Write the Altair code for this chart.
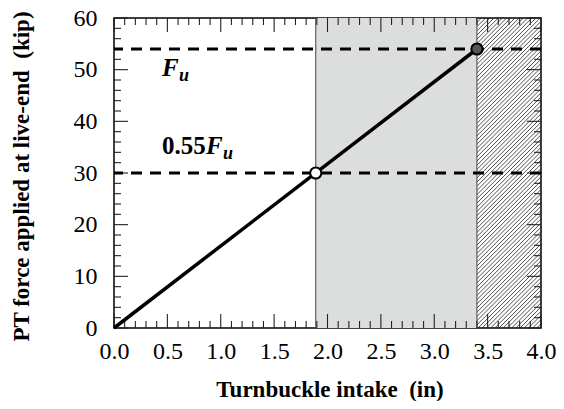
import altair as alt
import numpy as np
import pandas as pd

# ---------------- data ----------------
line_x = [0.0, 3.4]
line_y = [0.0, 54.0]
open_pt_x = [1.89]
open_pt_y = [30.0]
fill_pt_x = [3.4]
fill_pt_y = [54.0]
ref_levels = [54.0, 30.0]            # Fu and 0.55Fu
gray_zone = [1.89, 3.4]
hatch_zone = [3.4, 4.0]
x_labels = [0.0, 0.5, 1.0, 1.5, 2.0, 2.5, 3.0, 3.5, 4.0]
y_labels = [0.0, 10.0, 20.0, 30.0, 40.0, 50.0, 60.0]
x_minor = [0.1, 0.2, 0.3, 0.4, 0.6, 0.7, 0.8, 0.9, 1.1, 1.2, 1.3, 1.4, 1.6, 1.7, 1.8, 1.9,
           2.1, 2.2, 2.3, 2.4, 2.6, 2.7, 2.8, 2.9, 3.1, 3.2, 3.3, 3.4, 3.6, 3.7, 3.8, 3.9]
y_minor = [2.0, 4.0, 6.0, 8.0, 12.0, 14.0, 16.0, 18.0, 22.0, 24.0, 26.0, 28.0, 32.0, 34.0,
           36.0, 38.0, 42.0, 44.0, 46.0, 48.0, 52.0, 54.0, 56.0, 58.0]
lab1_pos = [0.45, 48.8]
lab2_pos = [0.45, 33.7]

# ---------------- layout ----------------
W, H = 427, 310
XMAX, YMAX = 4.0, 60.0
FONT = "Liberation Serif"
MAJ, MIN = 14, 7
TICK_COLOR = "#222222"
px_per_x = W / XMAX
px_per_y = H / YMAX

xs = alt.Scale(domain=[0, XMAX], nice=False, zero=False)
ys = alt.Scale(domain=[0, YMAX], nice=False, zero=False)

X_AX = alt.Axis(values=x_labels, format=".1f", ticks=False, domain=False, grid=False,
                labelFont=FONT, labelFontSize=24, labelColor="black", labelPadding=11,
                title="Turnbuckle intake \u00a0(in)", titleFont=FONT, titleFontSize=23,
                titleFontWeight="bold", titleColor="black", titleX=W / 2 + 2, titleY=68,
                titleBaseline="alphabetic", titleAlign="center", labelFlush=False)
Y_AX = alt.Axis(values=y_labels, ticks=False, domain=False, grid=False,
                labelFont=FONT, labelFontSize=24, labelColor="black", labelPadding=17,
                title="PT force applied at live-end \u00a0(kip)", titleFont=FONT,
                titleFontSize=23, titleFontWeight="bold", titleColor="black",
                titleAngle=-90, titleX=-86, titleY=158, titleBaseline="alphabetic",
                titleAlign="center", labelFlush=False)


def X(field):
    return alt.X(field, type="quantitative", scale=xs, axis=X_AX)


def Y(field):
    return alt.Y(field, type="quantitative", scale=ys, axis=Y_AX)


gray_df = pd.DataFrame({"x1": [gray_zone[0]], "x2": [gray_zone[1]], "y1": [0.0], "y2": [YMAX]})
gray = alt.Chart(gray_df).mark_rect(color="#dcdddd").encode(
    x=X("x1"), x2="x2", y=Y("y1"), y2="y2")

# hatch zone (decorative diagonal lines)
zw = (hatch_zone[1] - hatch_zone[0]) * px_per_x
segs = []
spacing = 4.2
c = -zw
while c < H:
    u0 = max(0.0, -c)
    u1 = min(zw, H - c)
    if u1 > u0:
        segs.append({"hx": hatch_zone[0] + u0 / px_per_x, "hy": (u0 + c) / px_per_y,
                     "hx2": hatch_zone[0] + u1 / px_per_x, "hy2": (u1 + c) / px_per_y})
    c += spacing
hatch = alt.Chart(pd.DataFrame(segs)).mark_rule(color="#222", strokeWidth=0.8).encode(
    x=X("hx"), y=Y("hy"), x2="hx2", y2="hy2")

zone_edges = alt.Chart(pd.DataFrame({"e": [gray_zone[0], hatch_zone[0]]})).mark_rule(
    color="#444", strokeWidth=1).encode(x=X("e"))


def tick_layer(a, b, a2, b2):
    df = pd.DataFrame({"a": [float(v) for v in a], "b": [float(v) for v in b],
                       "a2": [float(v) for v in a2], "b2": [float(v) for v in b2]})
    return alt.Chart(df).mark_rule(color=TICK_COLOR, strokeWidth=1.1).encode(
        x=X("a"), y=Y("b"), x2="a2", y2="b2")


# inward ticks on all four sides
tick_layers = []
for vals, L in [(x_labels, MAJ), (x_minor, MIN)]:
    d = L / px_per_y
    n = len(vals)
    tick_layers.append(tick_layer(vals, [0.0] * n, vals, [d] * n))
    tick_layers.append(tick_layer(vals, [YMAX] * n, vals, [YMAX - d] * n))
for vals, L in [(y_labels, MAJ), (y_minor, MIN)]:
    d = L / px_per_x
    n = len(vals)
    tick_layers.append(tick_layer([0.0] * n, vals, [d] * n, vals))
    tick_layers.append(tick_layer([XMAX] * n, vals, [XMAX - d] * n, vals))

dashed = alt.Chart(pd.DataFrame({"r": ref_levels})).mark_rule(
    color="black", strokeWidth=3, strokeDash=[11, 8]).encode(y=Y("r"))

main = alt.Chart(pd.DataFrame({"x": line_x, "y": line_y})).mark_line(
    color="black", strokeWidth=3.5).encode(x=X("x"), y=Y("y"))

open_pt = alt.Chart(pd.DataFrame({"x": open_pt_x, "y": open_pt_y})).mark_point(
    shape="circle", filled=True, fill="white", stroke="black", strokeWidth=2,
    size=125, opacity=1).encode(x=X("x"), y=Y("y"))
fill_pt = alt.Chart(pd.DataFrame({"x": fill_pt_x, "y": fill_pt_y})).mark_point(
    shape="circle", filled=True, fill="#555555", stroke="black", strokeWidth=2,
    size=125, opacity=1).encode(x=X("x"), y=Y("y"))

l1 = pd.DataFrame({"x": [lab1_pos[0]], "y": [lab1_pos[1]]})
l2 = pd.DataFrame({"x": [lab2_pos[0]], "y": [lab2_pos[1]]})
tb = dict(font=FONT, fontWeight="bold", color="black", align="left", baseline="alphabetic")
t1F = alt.Chart(l1).mark_text(text="F", fontSize=25, fontStyle="italic", **tb).encode(x=X("x"), y=Y("y"))
t1u = alt.Chart(l1).mark_text(text="u", fontSize=18, fontStyle="italic", dx=17, dy=5, **tb).encode(x=X("x"), y=Y("y"))
t2n = alt.Chart(l2).mark_text(text="0.55", fontSize=25, **tb).encode(x=X("x"), y=Y("y"))
t2F = alt.Chart(l2).mark_text(text="F", fontSize=25, fontStyle="italic", dx=44, **tb).encode(x=X("x"), y=Y("y"))
t2u = alt.Chart(l2).mark_text(text="u", fontSize=18, fontStyle="italic", dx=61, dy=5, **tb).encode(x=X("x"), y=Y("y"))

chart = alt.layer(gray, hatch, zone_edges, *tick_layers, dashed, main,
                  open_pt, fill_pt, t1F, t1u, t2n, t2F, t2u).properties(
    width=W, height=H,
    autosize=alt.AutoSizeParams(type="none"),
    padding={"left": 106, "top": 10, "right": 15, "bottom": 73},
    background="white",
).configure_view(stroke="black", strokeWidth=1.5)

chart.save("out.html", embed_options={"renderer": "svg", "actions": False})
